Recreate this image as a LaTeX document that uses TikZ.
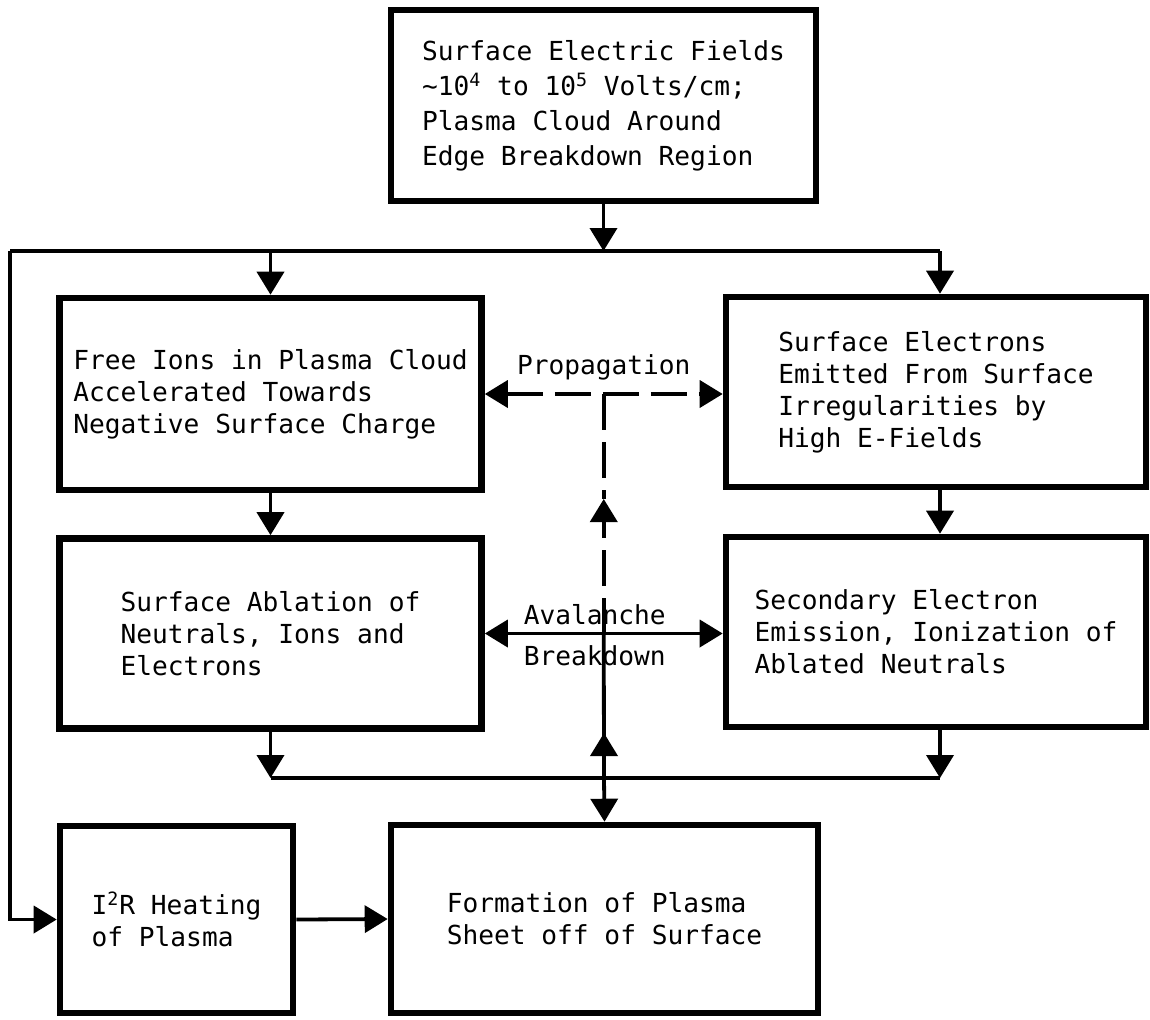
\documentclass[tikz,border=0pt]{standalone}
\usepackage{fontspec}
\setmainfont{DejaVu Sans Mono}
\usetikzlibrary{arrows.meta,calc}

\begin{document}
\begin{tikzpicture}[ x=0.5pt, y=-0.5pt,
	box/.style={ draw, line width=3.3pt, align=left, font=\fontsize{13.1pt}{16pt}\selectfont },
	conn/.style={ line width=1.9pt },
	arrow/.style={ conn, -{Triangle[length=11.5pt,width=13.5pt]} },
	dashconn/.style={ conn, dash pattern=on 18pt off 6pt },
	lbl/.style={ font=\fontsize{13.1pt}{16pt}\selectfont, inner sep=1pt } ]
	  \useasboundingbox (0,0) rectangle (1150,1019);

	  \node [ box, minimum width=212.5pt, minimum height=95.5pt, font=\fontsize{13.1pt}{17.5pt}\selectfont ] (fields) at (603.5,105.5)
	    { Surface Electric Fields\\\textasciitilde10\textsuperscript{4} to 10\textsuperscript{5} Volts/cm;\\Plasma Cloud Around\\Edge Breakdown Region };
	  \node [ box, minimum width=211pt, minimum height=96pt ] (ions) at (270.5,394)
	    { Free Ions in Plasma Cloud\\Accelerated Towards\\Negative Surface Charge };
	  \node [ box, minimum width=210pt, minimum height=95pt ] (emit) at (936,392)
	    { Surface Electrons\\Emitted From Surface\\Irregularities by\\High E-Fields };
	  \node [ box, minimum width=211pt, minimum height=95pt ] (ablate) at (270.5,633.5)
	    { Surface Ablation of\\Neutrals, Ions and\\Electrons };
	  \node [ box, minimum width=210pt, minimum height=95pt ] (ionize) at (936,632)
	    { Secondary Electron\\Emission, Ionization of\\Ablated Neutrals };
	  \node [ box, minimum width=116.5pt, minimum height=93.5pt ] (heat) at (176.5,919.5)
	    { I\textsuperscript{2}R Heating\\of Plasma };
	  \node [ box, minimum width=213.5pt, minimum height=94pt ] (sheet) at (604.5,919)
	    { Formation of Plasma\\Sheet off of Surface };

	  \coordinate (bus) at (603.5,251);
	  \coordinate (rail) at (10,251);
	  \coordinate (busR) at (940,251);
	  \coordinate (low) at (604,778);

	  \draw [ arrow ] (fields.south) -- (bus);
	  \draw [ conn ] (rail) -- (busR);
	  \draw [ arrow ] (rail) |- (heat.west);
	  \draw [ arrow ] (ions.north |- bus) -- (ions.north);
	  \draw [ arrow ] (busR) -- (busR |- emit.north);

	  \draw [ arrow ] (ions.south) -- (ablate.north);
	  \draw [ arrow ] (busR |- emit.south) -- (busR |- ionize.north);

	  \draw [ arrow ] (ablate.south) -- (ablate.south |- low);
	  \draw [ arrow ] (busR |- ionize.south) -- (busR |- low);
	  \draw [ conn ] (ablate.south |- low) -- (busR |- low);

	  \draw [ dashconn, {Triangle[length=11.5pt,width=13.5pt]}-{Triangle[length=11.5pt,width=13.5pt]} ] (ions.east) -- (ions.east -| emit.west)
	    coordinate [ midway ] (pmid) node [ lbl, midway, above=5pt ] {Propagation};
	  \draw [ conn, {Triangle[length=11.5pt,width=13.5pt]}-{Triangle[length=11.5pt,width=13.5pt]} ] (ablate.east) -- (ablate.east -| ionize.west)
	    coordinate [ midway ] (amid)
	    node [ lbl, midway, above=2.5pt, xshift=-4.5pt ] {Avalanche}
	    node [ lbl, midway, below=4pt, xshift=-4.5pt ] {Breakdown};

	  \coordinate (dtip) at ($(pmid)+(0,105)$);
	  \draw [ dashconn ] (pmid) -- (dtip);
	  \draw [ dashconn, -{Triangle[length=11.5pt,width=13.5pt]} ] (amid) -- (dtip);

	  \draw [ conn ] (amid) -- (low);
	  \draw [ arrow ] (low) -- ++(0,-45);
	  \draw [ arrow ] (low) -- (sheet.north);
	  \draw [ arrow ] (heat.east) -- (sheet.west);
	\end{tikzpicture}
\end{document}
